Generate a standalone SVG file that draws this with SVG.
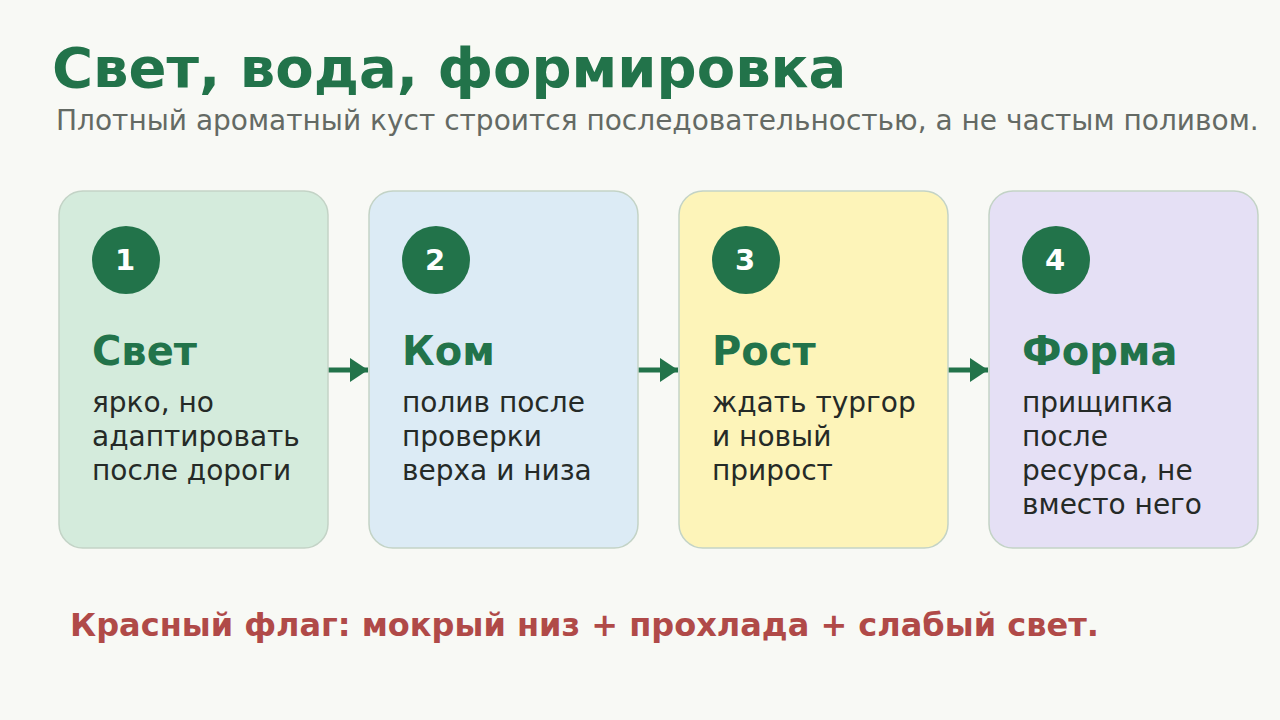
<svg xmlns="http://www.w3.org/2000/svg" width="1280" height="720" viewBox="0 0 1280 720">
<defs>
<style>
.title{font-family:"DejaVu Sans",sans-serif;font-weight:bold;font-size:56px;fill:#22734a}
.sub{font-family:"DejaVu Sans",sans-serif;font-size:28px;fill:#646a64}
.card{stroke:#c3d3c6;stroke-width:1.5}
.num{font-family:"DejaVu Sans",sans-serif;font-weight:bold;font-size:29px;fill:#ffffff;text-anchor:middle}
.ct{font-family:"DejaVu Sans",sans-serif;font-weight:bold;font-size:40px;fill:#22734a}
.body{font-family:"DejaVu Sans",sans-serif;font-size:28px;fill:#252a27}
.warn{font-family:"DejaVu Sans",sans-serif;font-weight:bold;font-size:32px;fill:#b04a48}
.conn{stroke:#22734a;stroke-width:5;fill:none}
</style>
<marker id="ah" markerUnits="userSpaceOnUse" markerWidth="20" markerHeight="26" refX="18" refY="12" orient="auto">
<path d="M0,0 L18,12 L0,24 Z" fill="#22734a"/>
</marker>
</defs>
<rect width="1280" height="720" fill="#f8f9f5"/>
<text class="title" x="52" y="87">Свет, вода, формировка</text>
<text class="sub" x="56" y="130">Плотный ароматный куст строится последовательностью, а не частым поливом.</text>
<g id="connectors">
<line class="conn" x1="328" y1="370" x2="368" y2="370" marker-end="url(#ah)"/>
<line class="conn" x1="638" y1="370" x2="678" y2="370" marker-end="url(#ah)"/>
<line class="conn" x1="948" y1="370" x2="988" y2="370" marker-end="url(#ah)"/>
</g>
<g id="node1">
<rect class="card" x="59" y="191" width="269" height="357" rx="24" fill="#d4ebdc"/>
<circle cx="126" cy="260" r="34" fill="#22734a"/>
<text class="num" x="125" y="270">1</text>
<text class="ct" x="92" y="365">Свет</text>
<text class="body" x="92" y="412">ярко, но</text>
<text class="body" x="92" y="446">адаптировать</text>
<text class="body" x="92" y="480">после дороги</text>
</g>
<g id="node2">
<rect class="card" x="369" y="191" width="269" height="357" rx="24" fill="#dcebf5"/>
<circle cx="436" cy="260" r="34" fill="#22734a"/>
<text class="num" x="435" y="270">2</text>
<text class="ct" x="402" y="365">Ком</text>
<text class="body" x="402" y="412">полив после</text>
<text class="body" x="402" y="446">проверки</text>
<text class="body" x="402" y="480">верха и низа</text>
</g>
<g id="node3">
<rect class="card" x="679" y="191" width="269" height="357" rx="24" fill="#fdf4b9"/>
<circle cx="746" cy="260" r="34" fill="#22734a"/>
<text class="num" x="745" y="270">3</text>
<text class="ct" x="712" y="365">Рост</text>
<text class="body" x="712" y="412">ждать тургор</text>
<text class="body" x="712" y="446">и новый</text>
<text class="body" x="712" y="480">прирост</text>
</g>
<g id="node4">
<rect class="card" x="989" y="191" width="269" height="357" rx="24" fill="#e5e0f5"/>
<circle cx="1056" cy="260" r="34" fill="#22734a"/>
<text class="num" x="1055" y="270">4</text>
<text class="ct" x="1022" y="365">Форма</text>
<text class="body" x="1022" y="412">прищипка</text>
<text class="body" x="1022" y="446">после</text>
<text class="body" x="1022" y="480">ресурса, не</text>
<text class="body" x="1022" y="514">вместо него</text>
</g>
<text class="warn" x="70" y="636">Красный флаг: мокрый низ + прохлада + слабый свет.</text>
</svg>
